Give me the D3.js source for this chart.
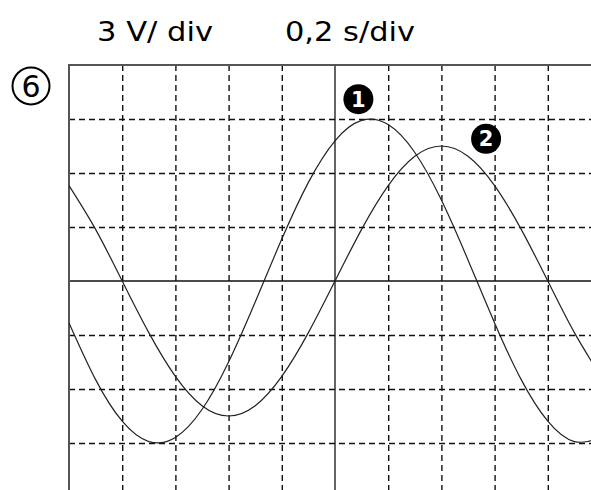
<!DOCTYPE html>
<html>
<head>
<meta charset="utf-8">
<script src="https://cdn.jsdelivr.net/npm/d3@7"></script>
<style>
  body { margin: 0; background: #fff; }
  svg { display: block; }
</style>
</head>
<body>
<div id="scope"></div>
<script>
// time samples (s), one every half division (0,2 s/div)
const times = [-1.0, -0.9, -0.8, -0.7, -0.6, -0.5, -0.4, -0.3, -0.2, -0.1, 0,
  0.1, 0.2, 0.3, 0.4, 0.5, 0.6, 0.7, 0.8, 0.9, 1.0];
// voltage of trace 1 (V)
const trace1 = [-2.33, -5.48, -7.79, -8.92, -8.69, -7.14, -4.5, -1.17, 2.33, 5.48, 7.79,
  8.92, 8.69, 7.14, 4.5, 1.17, -2.33, -5.48, -7.79, -8.92, -8.69];
// voltage of trace 2 (V)
const trace2 = [5.3, 2.87, 0, -2.87, -5.3, -6.93, -7.5, -6.93, -5.3, -2.87, 0,
  2.87, 5.3, 6.93, 7.5, 6.93, 5.3, 2.87, 0, -2.87, -5.3];
// grid divisions
const timeGrid = [-0.8, -0.6, -0.4, -0.2, 0.2, 0.4, 0.6, 0.8];
const voltGrid = [9, 6, 3, -3, -6, -9];
const scaleLabels = ["3 V/ div", "0,2 s/div"];
const screenNumber = "6";
// trace markers: label, time (s), voltage (V)
const markers = [
  { label: "1", t: 0.088, v: 10.1 },
  { label: "2", t: 0.568, v: 7.9 },
];

class Scope {
  constructor(_config) {
    this.config = {
      parentElement: "#scope",
      containerWidth: 591,
      containerHeight: 490,
      left: 69,
      top: 65,
      divX: 53.2,
      divY: 54,
    };
    this.initVis();
  }
  initVis() {
    let vis = this;
    const c = vis.config;
    vis.width = c.divX * 10;
    vis.height = c.divY * 8;

    vis.svg = d3
      .select(c.parentElement)
      .append("svg")
      .attr("width", c.containerWidth)
      .attr("height", c.containerHeight);

    vis.x = d3.scaleLinear().domain([-1, 1]).range([c.left, c.left + vis.width]);
    vis.y = d3.scaleLinear().domain([12, -12]).range([c.top, c.top + vis.height]);

    this.updateVis();
  }
  updateVis() {
    let vis = this;
    const c = vis.config;

    // dashed grid (vertical)
    const gx = vis.svg
      .append("g")
      .attr("transform", `translate(0,${c.top})`)
      .call(d3.axisTop(vis.x).tickValues(timeGrid).tickSize(-vis.height).tickFormat(""));
    gx.select(".domain").remove();
    gx.selectAll("line")
      .attr("stroke", "#111")
      .attr("stroke-width", 1.4)
      .attr("stroke-dasharray", "6,4");

    // dashed grid (horizontal)
    const gy = vis.svg
      .append("g")
      .attr("transform", `translate(${c.left},0)`)
      .call(d3.axisLeft(vis.y).tickValues(voltGrid).tickSize(-vis.width).tickFormat(""));
    gy.select(".domain").remove();
    gy.selectAll("line")
      .attr("stroke", "#111")
      .attr("stroke-width", 1.4)
      .attr("stroke-dasharray", "6,4");

    // centre axes
    vis.svg.append("line")
      .attr("x1", vis.x(-1)).attr("x2", vis.x(1))
      .attr("y1", vis.y(0)).attr("y2", vis.y(0))
      .attr("stroke", "#111").attr("stroke-width", 1.3);
    vis.svg.append("line")
      .attr("x1", vis.x(0)).attr("x2", vis.x(0))
      .attr("y1", vis.y(12)).attr("y2", vis.y(-12))
      .attr("stroke", "#111").attr("stroke-width", 1.3);

    // screen border
    vis.svg.append("rect")
      .attr("x", vis.x(-1)).attr("y", vis.y(12))
      .attr("width", vis.width).attr("height", vis.height)
      .attr("fill", "none")
      .attr("stroke", "#555")
      .attr("stroke-width", 2);

    // traces
    const line = d3.line()
      .x((d, i) => vis.x(times[i]))
      .y((d) => vis.y(d))
      .curve(d3.curveNatural);
    [trace1, trace2].forEach((tr) => {
      vis.svg.append("path")
        .attr("d", line(tr))
        .attr("fill", "none")
        .attr("stroke", "#222")
        .attr("stroke-width", 1.2);
    });

    // trace markers
    const m = vis.svg.selectAll(".marker").data(markers).enter().append("g")
      .attr("transform", (d) => `translate(${vis.x(d.t)},${vis.y(d.v)})`);
    m.append("circle").attr("r", 15).attr("fill", "#000");
    m.append("text")
      .attr("text-anchor", "middle")
      .attr("y", 7.5)
      .attr("fill", "#fff")
      .style("font-family", "DejaVu Sans")
      .style("font-weight", "bold")
      .style("font-size", "21px")
      .text((d) => d.label);

    // scale settings
    vis.svg.append("text")
      .attr("x", 97).attr("y", 41)
      .attr("textLength", 116).attr("lengthAdjust", "spacingAndGlyphs")
      .style("font-family", "DejaVu Sans")
      .style("font-size", "26px")
      .text(scaleLabels[0]);
    vis.svg.append("text")
      .attr("x", 285).attr("y", 41)
      .attr("textLength", 130).attr("lengthAdjust", "spacingAndGlyphs")
      .style("font-family", "DejaVu Sans")
      .style("font-size", "26px")
      .text(scaleLabels[1]);

    // screen number
    vis.svg.append("circle")
      .attr("cx", 31).attr("cy", 86).attr("r", 18.5)
      .attr("fill", "none").attr("stroke", "#000").attr("stroke-width", 2);
    vis.svg.append("text")
      .attr("x", 31).attr("y", 97)
      .attr("text-anchor", "middle")
      .style("font-family", "DejaVu Sans")
      .style("font-size", "30px")
      .text(screenNumber);
  }
}

new Scope();
</script>
</body>
</html>
